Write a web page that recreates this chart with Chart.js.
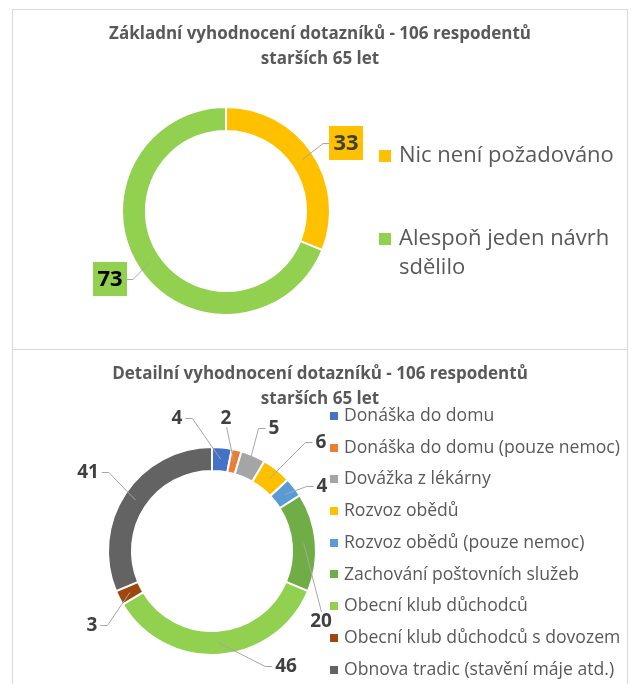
<!DOCTYPE html>
<html lang="cs">
<head>
<meta charset="utf-8">
<title>Vyhodnocení dotazníků</title>
<script src="https://cdn.jsdelivr.net/npm/chart.js@4.4.1/dist/chart.umd.min.js"></script>
<style>
  html, body { margin: 0; padding: 0; background: #fff; overflow: hidden; }
  body { width: 632px; height: 684px; position: relative; }
  .panel { position: absolute; left: 12px; width: 614px; border: 1px solid #d9d9d9; background: #fff; }
  #panel1 { top: 9px; height: 339px; }
  #panel2 { top: 349px; height: 360px; }
  canvas { display: block; }
</style>
</head>
<body>
<div class="panel" id="panel1"><canvas id="summaryChart" width="614" height="339"></canvas></div>
<div class="panel" id="panel2"><canvas id="detailChart" width="614" height="334"></canvas></div>
<script>
// Data
const summaryTitle = ["Základní vyhodnocení dotazníků - 106 respodentů", "starších 65 let"];
const summaryLabels = ["Nic není požadováno", "Alespoň jeden návrh sdělilo"];
const summaryValues = [33, 73];
const summaryColors = ["#FFC000", "#92D050"];

const detailTitle = ["Detailní vyhodnocení dotazníků - 106 respodentů", "starších 65 let"];
const detailLabels = [
  "Donáška do domu",
  "Donáška do domu (pouze nemoc)",
  "Dovážka z lékárny",
  "Rozvoz obědů",
  "Rozvoz obědů (pouze nemoc)",
  "Zachování poštovních služeb",
  "Obecní klub důchodců",
  "Obecní klub důchodců s dovozem",
  "Obnova tradic (stavění máje atd.)",
];
const detailValues = [4, 2, 5, 6, 4, 20, 46, 3, 41];
const detailColors = [
  "#4472C4", "#ED7D31", "#A5A5A5", "#FFC000", "#5B9BD5",
  "#70AD47", "#92D050", "#9E480E", "#636363",
];

const FONT = "'Open Sans', 'Noto Sans', sans-serif";

function wrapText(ctx, text, maxWidth) {
  const words = text.split(" ");
  const lines = [];
  let line = "";
  words.forEach((w) => {
    const test = line ? line + " " + w : w;
    if (line && ctx.measureText(test).width > maxWidth) {
      lines.push(line);
      line = w;
    } else {
      line = test;
    }
  });
  lines.push(line);
  return lines;
}

// two-line title centred over the whole panel
const panelTitle = {
  id: "panelTitle",
  afterDraw(chart, args, opts) {
    const ctx = chart.ctx;
    ctx.save();
    ctx.font = opts.font;
    ctx.fillStyle = opts.color;
    ctx.textAlign = "center";
    ctx.textBaseline = "middle";
    opts.lines.forEach((line, i) => {
      ctx.fillText(line, chart.width / 2, opts.top + i * opts.lineHeight);
    });
    ctx.restore();
  },
};

// legend to the right of the ring
const sideLegend = {
  id: "sideLegend",
  afterDraw(chart, args, opts) {
    const ctx = chart.ctx;
    const ds = chart.data.datasets[0];
    ctx.save();
    ctx.font = opts.font;
    ctx.textAlign = "left";
    ctx.textBaseline = "middle";
    let y = opts.top;
    chart.data.labels.forEach((label, i) => {
      ctx.fillStyle = ds.backgroundColor[i];
      ctx.fillRect(opts.left, Math.round(y - opts.box / 2), opts.box, opts.box);
      ctx.fillStyle = opts.color;
      const lines = wrapText(ctx, label, opts.wrapWidth);
      lines.forEach((line, j) => {
        ctx.fillText(line, opts.textLeft, y + j * opts.lineHeight);
      });
      y += opts.spacing + (lines.length - 1) * opts.lineHeight;
    });
    ctx.restore();
  },
};

// value labels with leader lines
const ringLabels = {
  id: "ringLabels",
  afterDatasetsDraw(chart, args, opts) {
    const ctx = chart.ctx;
    const meta = chart.getDatasetMeta(0);
    const ds = chart.data.datasets[0];
    ctx.save();
    ctx.font = opts.font;
    ctx.textAlign = "center";
    ctx.textBaseline = "middle";
    meta.data.forEach((arc, i) => {
      const p = arc.getProps(["x", "y", "startAngle", "endAngle", "innerRadius", "outerRadius"], true);
      const mid = (p.startAngle + p.endAngle) / 2;
      const rMid = (p.innerRadius + p.outerRadius) / 2;
      const tx = p.x + Math.cos(mid) * rMid;
      const ty = p.y + Math.sin(mid) * rMid;
      const off = opts.offsets[i];
      const lx = p.x + off[0] * p.outerRadius;
      const ly = p.y + off[1] * p.outerRadius;
      const text = String(ds.data[i]);
      const halfW = opts.boxed ? opts.boxSize / 2 : ctx.measureText(text).width / 2 + 3;
      const halfH = opts.boxed ? opts.boxSize / 2 : opts.halfHeight;

      ctx.strokeStyle = opts.lineColor;
      ctx.lineWidth = 1;
      ctx.beginPath();
      if (Math.abs(ty - ly) > 2 * Math.abs(tx - lx)) {
        const sy = ty > ly ? ly + halfH : ly - halfH;
        ctx.moveTo(lx + 0.5, sy);
        ctx.lineTo(tx, ty);
      } else {
        const dir = tx > lx ? 1 : -1;
        const sx = lx + dir * halfW;
        ctx.moveTo(sx, Math.round(ly) + 0.5);
        ctx.lineTo(sx + dir * opts.elbow, Math.round(ly) + 0.5);
        ctx.lineTo(tx, ty);
      }
      ctx.stroke();

      if (opts.boxed) {
        ctx.fillStyle = ds.backgroundColor[i];
        ctx.fillRect(Math.round(lx - halfW), Math.round(ly - halfH), opts.boxSize, opts.boxSize);
      }
      ctx.fillStyle = opts.colors[i];
      ctx.fillText(text, lx, ly + 1);
    });
    ctx.restore();
  },
};

function ringChart(canvasId, cfg) {
  return new Chart(document.getElementById(canvasId), {
    type: "doughnut",
    data: {
      labels: cfg.labels,
      datasets: [
        {
          data: cfg.values,
          backgroundColor: cfg.colors,
          borderColor: "#FFFFFF",
          borderWidth: 2,
          hoverOffset: 0,
        },
      ],
    },
    options: {
      responsive: false,
      animation: false,
      devicePixelRatio: 1,
      cutout: "77%",
      layout: { padding: cfg.padding },
      plugins: {
        legend: { display: false },
        tooltip: { enabled: false },
        panelTitle: {
          lines: cfg.title,
          font: "bold 17px " + FONT,
          color: "#595959",
          top: 24,
          lineHeight: 25,
        },
        sideLegend: cfg.legend,
        ringLabels: cfg.valueLabels,
      },
    },
    plugins: [panelTitle, sideLegend, ringLabels],
  });
}

ringChart("summaryChart", {
  title: summaryTitle,
  labels: summaryLabels,
  values: summaryValues,
  colors: summaryColors,
  padding: { left: 108, right: 296, top: 96, bottom: 33 },
  legend: {
    font: "22px " + FONT,
    color: "#595959",
    left: 366,
    textLeft: 386,
    box: 12,
    top: 146,
    spacing: 83,
    lineHeight: 29,
    wrapWidth: 224,
  },
  valueLabels: {
    font: "bold 22px " + FONT,
    colors: ["#404040", "#000000"],
    boxed: true,
    boxSize: 34,
    lineColor: "#A6A6A6",
    elbow: 6,
    offsets: [[1.154, -0.654], [-1.115, 0.654]],
  },
});

ringChart("detailChart", {
  title: detailTitle,
  labels: detailLabels,
  values: detailValues,
  colors: detailColors,
  padding: { left: 94, right: 310, top: 96, bottom: 28 },
  legend: {
    font: "17.6px " + FONT,
    color: "#595959",
    left: 317,
    textLeft: 331,
    box: 8,
    top: 66,
    spacing: 31.7,
    lineHeight: 22,
    wrapWidth: 1000,
  },
  valueLabels: {
    font: "bold 19px " + FONT,
    colors: detailValues.map(() => "#404040"),
    boxed: false,
    halfHeight: 9,
    lineColor: "#A6A6A6",
    elbow: 7,
    offsets: [
      [-0.337, -1.279], [0.135, -1.279], [0.596, -1.183], [1.048, -1.048],
      [1.058, -0.625], [1.048, 0.673], [0.712, 1.106], [-1.154, 0.712],
      [-1.192, -0.760],
    ],
  },
});
</script>
</body>
</html>
